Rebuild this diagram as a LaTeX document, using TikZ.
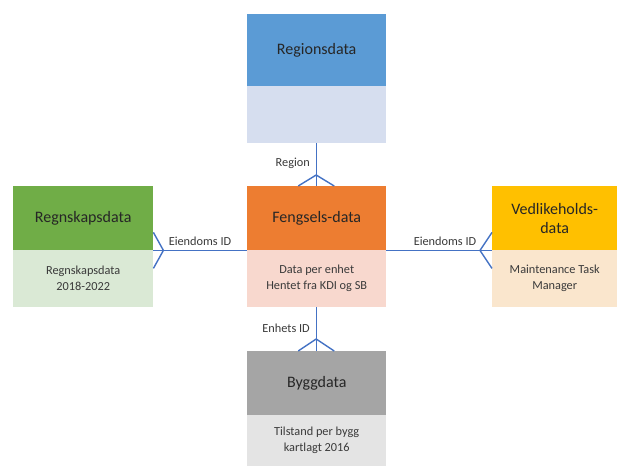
\documentclass[tikz,border=0pt]{standalone}
\usepackage{fontspec}
\setmainfont{Carlito}
\definecolor{cblue}{HTML}{5B9BD5}
\definecolor{cbluel}{HTML}{D6DEEF}
\definecolor{corange}{HTML}{ED7D31}
\definecolor{corangel}{HTML}{F8D8CE}
\definecolor{cgreen}{HTML}{70AD47}
\definecolor{cgreenl}{HTML}{DAE9D5}
\definecolor{cyellow}{HTML}{FFC000}
\definecolor{cyellowl}{HTML}{FAE6CD}
\definecolor{cgray}{HTML}{A5A5A5}
\definecolor{cgrayl}{HTML}{E4E4E4}
\definecolor{cline}{HTML}{4472C4}
\definecolor{ctext}{HTML}{262626}
\definecolor{csub}{HTML}{3A3A3A}
\tikzset{
  box/.style={rectangle, inner sep=0pt, anchor=north west, align=center},
  headbox/.style={box, font=\fontsize{16}{19}\selectfont, text=ctext},
  lowbox/.style={box, font=\fontsize{12.3}{16}\selectfont, text=csub},
  rel/.style={draw=cline, line width=1.4pt},
  rellabel/.style={font=\fontsize{12.3}{14}\selectfont, text=csub, inner sep=0pt}
}
\begin{document}
\begin{tikzpicture}[x=1pt,y=-1pt]
\useasboundingbox[fill=white] (0,0) rectangle (621,467);
% Regionsdata
\node[headbox, fill=cblue, minimum width=139pt, minimum height=72pt] (rhead) at (247,14) {Regionsdata};
\node[lowbox, fill=cbluel, minimum width=139pt, minimum height=57pt] (rlow) at (247,86) {};
% Fengsels-data
\node[headbox, fill=corange, minimum width=139pt, minimum height=64pt] (fhead) at (247,186) {Fengsels-data};
\node[lowbox, fill=corangel, minimum width=139pt, minimum height=57pt] (flow) at (247,250) {Data per enhet\\Hentet fra KDI og SB};
% Byggdata
\node[headbox, fill=cgray, minimum width=139pt, minimum height=64pt] (bhead) at (247,351) {Byggdata};
\node[lowbox, fill=cgrayl, minimum width=139pt, minimum height=51pt] (blow) at (247,415) {Tilstand per bygg\\kartlagt 2016};
% Regnskapsdata
\node[headbox, fill=cgreen, minimum width=140pt, minimum height=64pt] (ghead) at (13,186) {Regnskapsdata};
\node[lowbox, fill=cgreenl, minimum width=140pt, minimum height=57pt] (glow) at (13,250) {Regnskapsdata\\2018-2022};
% Vedlikeholdsdata
\node[headbox, fill=cyellow, minimum width=125pt, minimum height=64pt] (vhead) at (492,186) {Vedlikeholds-\\data};
\node[lowbox, fill=cyellowl, minimum width=125pt, minimum height=57pt] (vlow) at (492,250) {Maintenance Task\\Manager};
% connectors
\draw[rel] ([xshift=-0.5pt]rlow.south) -- ([xshift=-0.5pt]fhead.north);
\draw[rel] ([xshift=-18.5pt]fhead.north) -- ++(18,-11) -- ++(18,11);
\node[rellabel, anchor=east] (lregion) at (310,163) {Region};

\draw[rel] ([xshift=-0.5pt]flow.south) -- ([xshift=-0.5pt]bhead.north);
\draw[rel] ([xshift=-18.5pt]bhead.north) -- ++(18,-12) -- ++(18,12);
\node[rellabel, anchor=east] (lenhet) at (310,328) {Enhets ID};

\draw[rel] (ghead.south east) -- (fhead.south west);
\draw[rel] ([yshift=18pt]ghead.south east) -- ++(10,18) -- ++(-10,18);
\node[rellabel] (leiendom1) at (200,241) {Eiendoms ID};

\draw[rel] (fhead.south east) -- (vhead.south west);
\draw[rel] ([yshift=18pt]vhead.south west) -- ++(-12,18) -- ++(12,18);
\node[rellabel] (leiendom2) at (445,241) {Eiendoms ID};
\end{tikzpicture}
\end{document}
